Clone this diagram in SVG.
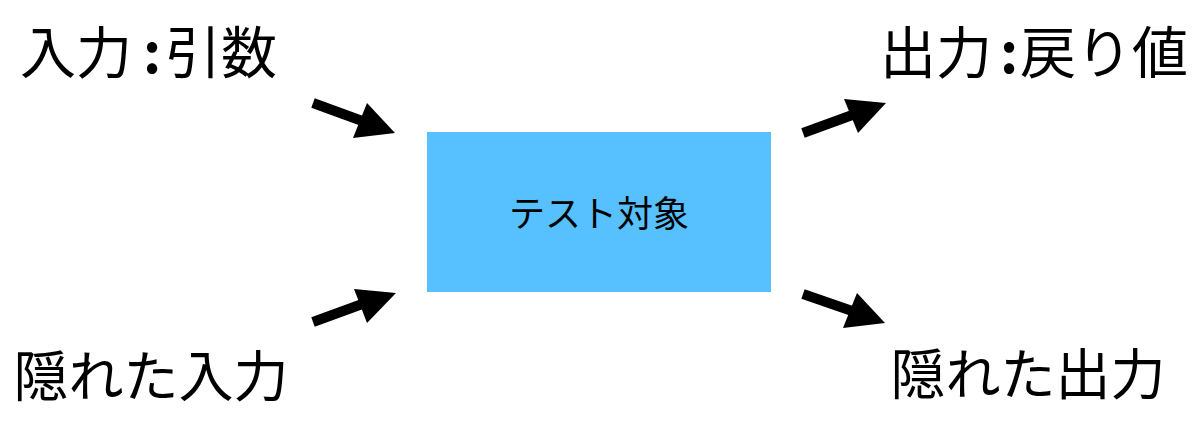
<svg xmlns="http://www.w3.org/2000/svg" width="1200" height="422" viewBox="0 0 1200 422">
<style>
.t{font-family:"Noto Sans CJK JP","Noto Sans",sans-serif;fill:#000;text-anchor:middle}
.s{font-family:"Noto Sans CJK JP","Noto Sans",sans-serif;fill:#000;text-anchor:start}
.c{font-weight:bold}
.arr line{stroke:#000;stroke-width:10}
.arr polygon{fill:#000}
</style>
<rect width="1200" height="422" fill="#fff"/>
<g id="target">
<rect x="427" y="132" width="344" height="160" fill="#57C1FF"/>
<text class="t" x="599" y="227" font-size="36">テスト対象</text>
</g>
<g id="in-args"><text class="s" y="73" font-size="56"><tspan x="20">入力</tspan><tspan class="c" x="143">:</tspan><tspan x="165">引数</tspan></text></g>
<g id="in-hidden"><text class="t" x="151" y="396" font-size="55">隠れた入力</text></g>
<g id="out-return"><text class="s" y="73" font-size="56"><tspan x="880">出力</tspan><tspan class="c" x="1000">:</tspan><tspan x="1020">戻り値</tspan></text></g>
<g id="out-hidden"><text class="t" x="1028" y="394" font-size="55">隠れた出力</text></g>
<g id="connectors" class="arr">
<line x1="313" y1="103" x2="365" y2="122"/><polygon points="395,133 367,103 353,138"/>
<line x1="803" y1="133" x2="855" y2="114"/><polygon points="886,103 844,99 858,133"/>
<line x1="313" y1="322" x2="365" y2="303"/><polygon points="396,293 354,289 367,323"/>
<line x1="803" y1="294" x2="855" y2="312"/><polygon points="885,323 857,293 843,328"/>
</g>
</svg>
